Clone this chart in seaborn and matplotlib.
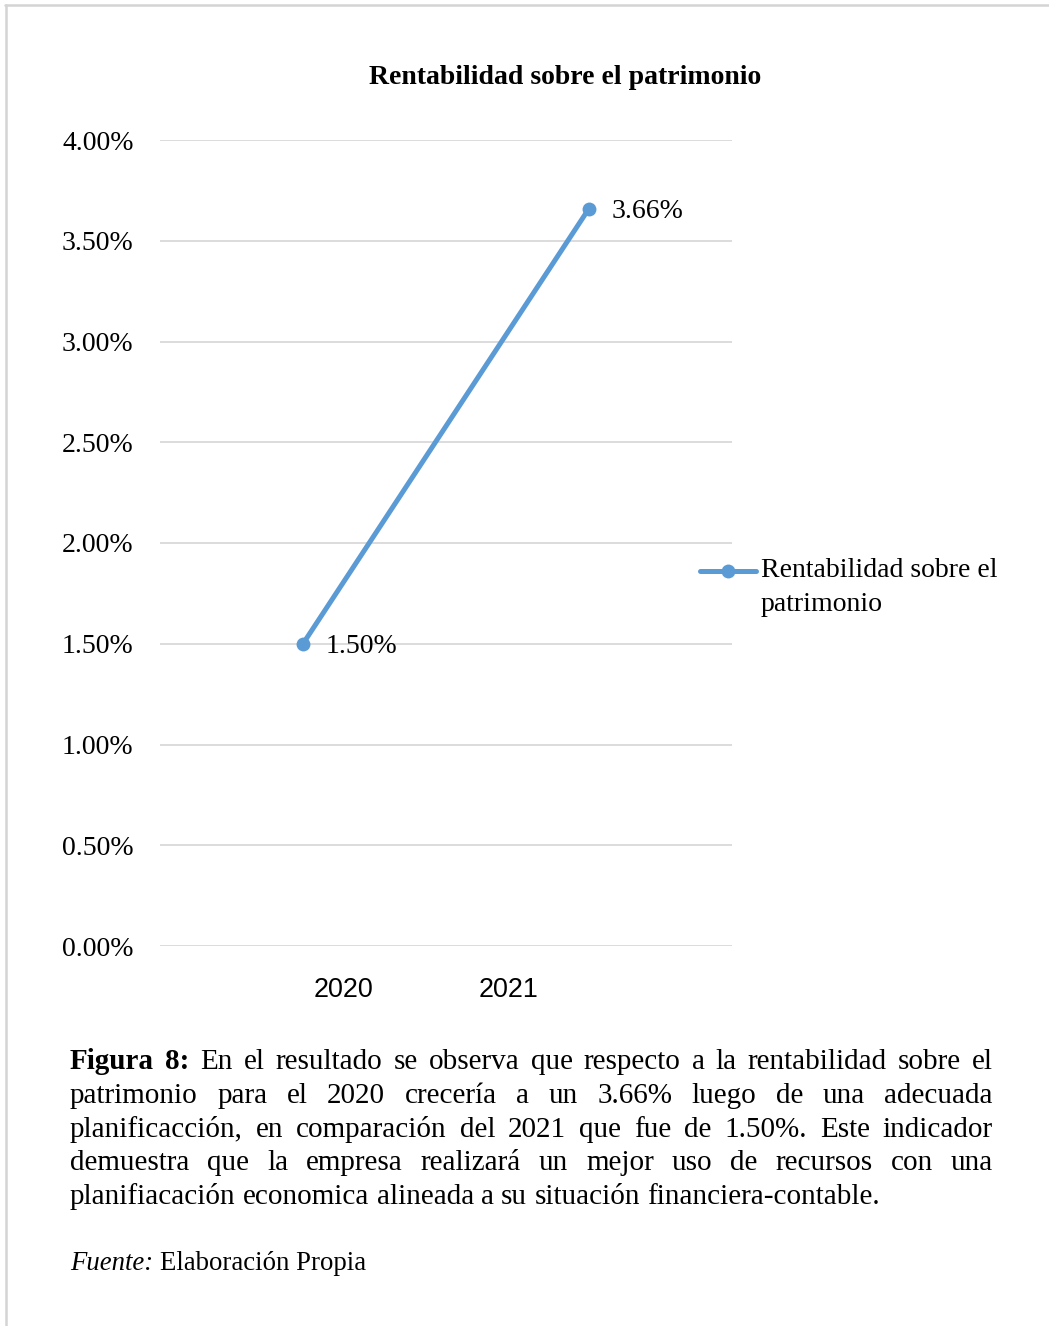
"""Line chart: Rentabilidad sobre el patrimonio (2020-2021)."""

import matplotlib

matplotlib.use("Agg")
import matplotlib.pyplot as plt
import numpy as np
import pandas as pd
import seaborn as sns
from matplotlib.legend_handler import HandlerLine2D
from matplotlib.lines import Line2D
from matplotlib.ticker import PercentFormatter

# --- data -----------------------------------------------------------------
years = ["2020", "2021"]
roe = [0.0150, 0.0366]
y_ticks = [0.0, 0.005, 0.01, 0.015, 0.02, 0.025, 0.03, 0.035, 0.04]
series_name = "Rentabilidad sobre el patrimonio"
legend_label = "Rentabilidad sobre el\npatrimonio"

caption_lines = [
    [("Figura", "bold"), ("8:", "bold"), ("En", ""), ("el", ""), ("resultado", ""),
     ("se", ""), ("observa", ""), ("que", ""), ("respecto", ""), ("a", ""), ("la", ""),
     ("rentabilidad", ""), ("sobre", ""), ("el", "")],
    [(w, "") for w in "patrimonio para el 2020 crecería a un 3.66% luego de una adecuada".split()],
    [(w, "") for w in "planificacción, en comparación del 2021 que fue de 1.50%. Este indicador".split()],
    [(w, "") for w in "demuestra que la empresa realizará un mejor uso de recursos con una".split()],
    [(w, "") for w in "planifiacación economica alineada a su situación financiera-contable.".split()],
]
source_parts = [("Fuente:", "italic"), ("Elaboración Propia", "")]

# --- style ----------------------------------------------------------------
W, H = 1049, 1326
BLUE = "#5B9BD5"
GRID = "#D9D9D9"
SERIF = ["Liberation Serif", "DejaVu Serif"]
SANS = ["Liberation Sans", "DejaVu Sans"]
LABEL_SIZE = 20

sns.set_theme(style="white")
plt.rcParams["font.family"] = SERIF
plt.rcParams["text.color"] = "black"
plt.rcParams["xtick.color"] = "black"
plt.rcParams["ytick.color"] = "black"


def fx(px):
    return px / W


def fy(py):
    return 1 - py / H


class RaisedLineHandler(HandlerLine2D):
    """Legend handle aligned with the first line of a two-line label."""

    def __init__(self, shift, **kwargs):
        super().__init__(**kwargs)
        self.shift = shift

    def create_artists(self, *args, **kwargs):
        artists = super().create_artists(*args, **kwargs)
        for artist in artists:
            artist.set_ydata(np.asarray(artist.get_ydata()) + self.shift)
        return artists


df = pd.DataFrame({"pos": np.arange(len(years)), "roe": roe, "serie": series_name})

fig = plt.figure(figsize=(W / 100, H / 100), dpi=100)
fig.patch.set_facecolor("white")
ax = fig.add_axes([fx(160), fy(946), fx(732) - fx(160), fy(140) - fy(946)])

sns.lineplot(data=df, x="pos", y="roe", color=BLUE, linewidth=3.6, marker="o",
             markersize=10, markeredgewidth=0, ax=ax, legend=False)

ax.set_xlim(-0.5, len(years) - 0.5)
ax.set_ylim(0, 0.04)
ax.set_yticks(y_ticks)
ax.yaxis.set_major_formatter(PercentFormatter(xmax=1, decimals=2))
ax.grid(axis="y", color=GRID, linewidth=1.3)
ax.grid(axis="x", visible=False)
for side in ["top", "right", "left", "bottom"]:
    ax.spines[side].set_visible(False)
ax.tick_params(axis="y", length=0, pad=19, labelsize=LABEL_SIZE, labelcolor="black")
ax.set_xlabel("")
ax.set_ylabel("")

# category labels sit off-centre in the original chart
ax.set_xticks([0.14, 0.72])
ax.set_xticklabels(years, fontfamily=SANS, fontsize=19.4)
ax.tick_params(axis="x", length=0, pad=22, labelcolor="black")

for pos, val in zip(df["pos"], df["roe"]):
    ax.annotate(f"{val * 100:.2f}%", xy=(pos, val), xytext=(16.5, -2),
                textcoords="offset points", ha="left", va="center",
                fontsize=LABEL_SIZE, color="black")

handle = Line2D([], [], color=BLUE, linewidth=3.6, marker="o", markersize=10,
                markeredgewidth=0)
leg = ax.legend([handle], [legend_label], loc="upper left", frameon=False,
                bbox_to_anchor=(fx(700), fy(558)), bbox_transform=fig.transFigure,
                fontsize=LABEL_SIZE, handlelength=2.0, handletextpad=0.18, borderpad=0,
                borderaxespad=0, labelspacing=0, labelcolor="black",
                handler_map={Line2D: RaisedLineHandler(shift=11.5)})
for t in leg.get_texts():
    t.set_linespacing(1.48)

fig.text(fx(565), fy(77), series_name, ha="center", va="center",
         fontsize=20, fontweight="bold", color="black")

# frame lines (top and left)
fig.add_artist(Line2D([fx(5), 1], [fy(5), fy(5)], color="#D4D4D4", linewidth=1.8))
fig.add_artist(Line2D([fx(6), fx(6)], [fy(5), 0], color="#D4D4D4", linewidth=1.8))

# --- caption, justified ---------------------------------------------------
renderer = fig.canvas.get_renderer()
left_px, right_px = 70, 993
baselines = [1069, 1103, 1137, 1170, 1204]
cap_size = 21
src_size = 19.3


def word_props(style, size):
    props = {"fontsize": size, "color": "black"}
    if style == "bold":
        props["fontweight"] = "bold"
    if style == "italic":
        props["fontstyle"] = "italic"
    return props


def text_width(s, size):
    t = fig.text(0, 0, s, fontsize=size)
    w = t.get_window_extent(renderer).width
    t.remove()
    return w


space_w = text_width("a a", cap_size) - text_width("aa", cap_size)

for i, (line, base) in enumerate(zip(caption_lines, baselines)):
    texts = [fig.text(0, fy(base), w, va="baseline", ha="left", **word_props(s, cap_size))
             for w, s in line]
    widths = [t.get_window_extent(renderer).width for t in texts]
    if i < len(caption_lines) - 1:
        gap = (right_px - left_px - sum(widths)) / (len(texts) - 1)
    else:
        gap = space_w
    x = left_px
    for t, wd in zip(texts, widths):
        t.set_x(fx(x))
        x += wd + gap

src_space = text_width("a a", src_size) - text_width("aa", src_size)
x = left_px
for part, style in source_parts:
    t = fig.text(fx(x), fy(1270), part, va="baseline", ha="left", **word_props(style, src_size))
    x += t.get_window_extent(renderer).width + src_space

fig.savefig("out.png", dpi=100, facecolor="white")
